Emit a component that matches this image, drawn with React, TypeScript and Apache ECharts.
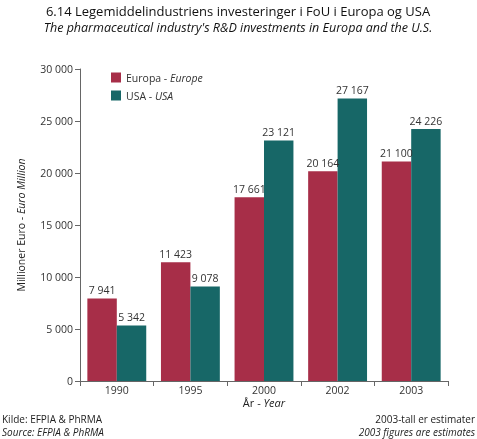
import React, { useEffect, useRef } from "react";
import * as echarts from "echarts";

const categories = ["1990", "1995", "2000", "2002", "2003"];
const europe = [7941, 11423, 17661, 20164, 21100];
const usa = [5342, 9078, 23121, 27167, 24226];
const yTicks = { min: 0, max: 30000, interval: 5000 };

const FONT = "'Open Sans', 'Noto Sans', sans-serif";
const fmt = (v: number) => String(v).replace(/\B(?=(\d{3})+(?!\d))/g, " ");

export default function App() {
  const ref = useRef<HTMLDivElement>(null);
  useEffect(() => {
    if (!ref.current) return;
    const chart = echarts.init(ref.current, null, { renderer: "svg" });
    const label = {
      show: true,
      position: "top" as const,
      distance: 3,
      color: "#333",
      fontSize: 10.5,
      fontFamily: FONT,
      formatter: (p: any) => fmt(p.value),
    };
    chart.setOption({
      animation: false,
      textStyle: { fontFamily: FONT },
      grid: { left: 80, top: 69, right: 29, bottom: 58 },
      legend: {
        orient: "vertical",
        left: 106,
        top: 67,
        itemWidth: 10,
        itemHeight: 10,
        itemGap: 7,
        icon: "rect",
        textStyle: {
          fontSize: 10.5,
          color: "#333",
          fontFamily: FONT,
          rich: { i: { fontStyle: "italic", fontSize: 10.5, color: "#333", fontFamily: FONT } },
        },
        formatter: (n: string) => (n === "Europa" ? "Europa - {i|Europe}" : "USA - {i|USA}"),
        data: ["Europa", "USA"],
      },
      xAxis: {
        type: "category",
        data: categories,
        axisLine: { lineStyle: { color: "#666", width: 1 } },
        axisTick: { show: true, length: 5, lineStyle: { color: "#666" } },
        axisLabel: { color: "#333", fontSize: 10.5, margin: 3, fontFamily: FONT },
      },
      yAxis: {
        type: "value",
        min: yTicks.min,
        max: yTicks.max,
        interval: yTicks.interval,
        axisLine: { show: true, lineStyle: { color: "#666" } },
        axisTick: { show: true, length: 5, lineStyle: { color: "#666" } },
        splitLine: { show: false },
        axisLabel: {
          color: "#333",
          fontSize: 10.5,
          margin: 7,
          fontFamily: FONT,
          formatter: (v: number) => fmt(v),
        },
      },
      series: [
        {
          name: "Europa",
          type: "bar",
          data: europe,
          barGap: "0%",
          barCategoryGap: "20%",
          itemStyle: { color: "#A72E48" },
          label,
        },
        {
          name: "USA",
          type: "bar",
          data: usa,
          barGap: "0%",
          barCategoryGap: "20%",
          itemStyle: { color: "#176767" },
          label,
        },
      ],
      graphic: [
        {
          type: "text",
          x: 238,
          y: 4,
          style: {
            text: "6.14 Legemiddelindustriens investeringer i FoU i Europa og USA",
            align: "center",
            fontSize: 13,
            fontFamily: FONT,
            fill: "#111",
          },
        },
        {
          type: "text",
          x: 238,
          y: 21,
          style: {
            text: "The pharmaceutical industry's R&D investments in Europa and the U.S.",
            align: "center",
            fontSize: 12.5,
            fontStyle: "italic",
            fontFamily: FONT,
            fill: "#111",
          },
        },
        {
          type: "text",
          x: 21,
          y: 225,
          rotation: Math.PI / 2,
          style: {
            text: "Millioner Euro - {i|Euro Million}",
            align: "center",
            verticalAlign: "middle",
            fontSize: 10.5,
            fontFamily: FONT,
            fill: "#222",
            rich: { i: { fontStyle: "italic", fontSize: 10.5, fontFamily: FONT, fill: "#222" } },
          },
        },
        {
          type: "text",
          x: 264,
          y: 397,
          style: {
            text: "År - {i|Year}",
            align: "center",
            fontSize: 11,
            fontFamily: FONT,
            fill: "#222",
            rich: { i: { fontStyle: "italic", fontSize: 11, fontFamily: FONT, fill: "#222" } },
          },
        },
        {
          type: "text",
          x: 2,
          y: 414,
          style: { text: "Kilde: EFPIA & PhRMA", fontSize: 10, fontFamily: FONT, fill: "#222" },
        },
        {
          type: "text",
          x: 2,
          y: 427,
          style: {
            text: "Source: EFPIA & PhRMA",
            fontSize: 10,
            fontStyle: "italic",
            fontFamily: FONT,
            fill: "#222",
          },
        },
        {
          type: "text",
          x: 475,
          y: 414,
          style: { text: "2003-tall er estimater", align: "right", fontSize: 10, fontFamily: FONT, fill: "#222" },
        },
        {
          type: "text",
          x: 475,
          y: 427,
          style: {
            text: "2003 figures are estimates",
            align: "right",
            fontSize: 10,
            fontStyle: "italic",
            fontFamily: FONT,
            fill: "#222",
          },
        },
      ],
    });
    return () => chart.dispose();
  }, []);
  return (
    <div
      ref={ref}
      style={{ position: "fixed", left: 0, top: 0, width: 477, height: 439 }}
    />
  );
}
